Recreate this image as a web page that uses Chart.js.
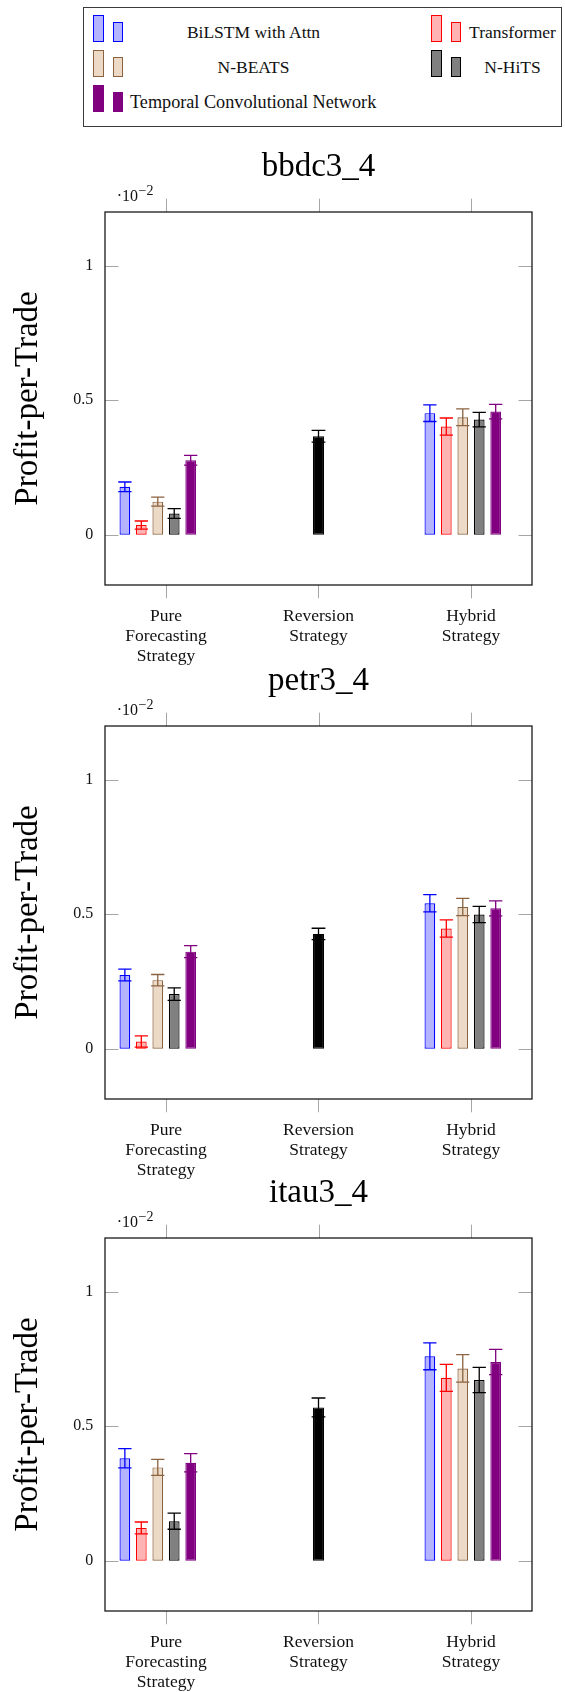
<!DOCTYPE html>
<html><head><meta charset="utf-8">
<script src="https://cdn.jsdelivr.net/npm/chart.js@4.4.1/dist/chart.umd.min.js"></script>
<style>
html,body{margin:0;padding:0;background:#fff;}
body{width:565px;height:1692px;overflow:hidden;position:relative;font-family:"Liberation Serif",serif;color:#111;}
.cv{position:absolute;left:0;}
#legendBox{position:absolute;left:83px;top:7px;width:477px;height:118px;border:1.3px solid #3a3a3a;}
.icon{position:absolute;box-sizing:border-box;border-width:1.2px;border-style:solid;width:10.5px;}
.ltxt{position:absolute;font-size:17.5px;line-height:20px;text-align:center;white-space:nowrap;}
</style></head><body>
<div id="legendBox"></div>
<canvas id="c0" class="cv" width="565" height="534" style="top:132px;width:565px;height:534px"></canvas>
<canvas id="c1" class="cv" width="565" height="534" style="top:646px;width:565px;height:534px"></canvas>
<canvas id="c2" class="cv" width="565" height="534" style="top:1158px;width:565px;height:534px"></canvas>
<script>
// ---------- data ----------
const categories = [["Pure","Forecasting","Strategy"],["Reversion","Strategy"],["Hybrid","Strategy"]];
const categoryX = [0, 1, 2];
const models = ["BiLSTM with Attn","Transformer","N-BEATS","N-HiTS","Temporal Convolutional Network"];
const titles = ["bbdc3_4","petr3_4","itau3_4"];
const yTicks = [0, 0.5, 1];
const yTickLabels = ["0","0.5","1"];
const yRange = [-0.187, 1.2];

// bbdc3_4
const bbdcPure      = [0.178, 0.036, 0.123, 0.079, 0.277];
const bbdcPureErr   = [0.018, 0.015, 0.017, 0.018, 0.018];
const bbdcHybrid    = [0.452, 0.402, 0.437, 0.428, 0.458];
const bbdcHybridErr = [0.031, 0.032, 0.031, 0.027, 0.027];
const bbdcReversion    = [0.366];
const bbdcReversionErr = [0.022];
// petr3_4
const petrPure      = [0.274, 0.027, 0.255, 0.203, 0.361];
const petrPureErr   = [0.022, 0.021, 0.021, 0.023, 0.022];
const petrHybrid    = [0.541, 0.447, 0.527, 0.499, 0.522];
const petrHybridErr = [0.032, 0.032, 0.032, 0.030, 0.028];
const petrReversion    = [0.427];
const petrReversionErr = [0.021];
// itau3_4
const itauPure      = [0.381, 0.122, 0.347, 0.147, 0.364];
const itauPureErr   = [0.036, 0.022, 0.030, 0.030, 0.034];
const itauHybrid    = [0.760, 0.680, 0.715, 0.672, 0.739];
const itauHybridErr = [0.050, 0.050, 0.051, 0.047, 0.047];
const itauReversion    = [0.570];
const itauReversionErr = [0.035];

// ---------- styles ----------
const fills   = ["#b3b3ff","#ffb3b3","#ecd9c6","#808080","#800080"];
const borders = ["#0000ff","#ff0000","#8b6340","#000000","#800080"];
const errColors = ["#0000ff","#ff0000","#8b6340","#000000","#800080"];
const FONT = "'Liberation Serif', serif";

// ---------- legend (HTML) ----------
(function buildLegend(){
  const slots = [
    {col:0,row:0},{col:1,row:0},{col:0,row:1},{col:1,row:1},{col:0,row:2}
  ];
  const colIcon = [93.3, 431];
  const colText = [[130,247],[468,89]];
  models.forEach((m,i)=>{
    const s = slots[i];
    const dy = 35*s.row;
    const a = document.createElement('div');
    a.className='icon';
    a.style.cssText += `left:${colIcon[s.col]}px;top:${15+dy}px;height:26.7px;background:${fills[i]};border-color:${borders[i]};`;
    const b = document.createElement('div');
    b.className='icon';
    b.style.cssText += `left:${colIcon[s.col]+19.5}px;top:${21.7+dy}px;height:20px;background:${fills[i]};border-color:${borders[i]};`;
    const t = document.createElement('div');
    t.className='ltxt';
    t.textContent = m;
    t.style.cssText += `left:${colText[s.col][0]}px;width:${colText[s.col][1]}px;top:${22.4+dy}px;`;
    if (i===4){ t.style.textAlign='left'; t.style.fontSize='18.2px'; }
    document.body.appendChild(a); document.body.appendChild(b); document.body.appendChild(t);
  });
})();

// ---------- plugin: frame, inner ticks, error bars, exponent ----------
const decor = {
  id:'decor',
  beforeDatasetsDraw(chart){
    const {ctx, chartArea:a, scales:{x,y}} = chart;
    ctx.save();
    ctx.strokeStyle='#a6a6a6'; ctx.lineWidth=1;
    ctx.beginPath();
    y.ticks.forEach((t,i)=>{
      const py = Math.round(y.getPixelForTick(i))+0.5;
      ctx.moveTo(a.left,py); ctx.lineTo(a.left+13.5,py);
      ctx.moveTo(a.right-13.5,py); ctx.lineTo(a.right,py);
    });
    x.ticks.forEach((t,i)=>{
      const px = Math.round(x.getPixelForTick(i))+0.5;
      ctx.moveTo(px,a.top-13.3); ctx.lineTo(px,a.top);
    });
    ctx.stroke();
    ctx.restore();
  },
  afterDatasetsDraw(chart){
    const {ctx, chartArea:a, scales:{y}} = chart;
    ctx.save();
    chart.data.datasets.forEach((ds,d)=>{
      if(!ds.errorBars) return;
      const meta = chart.getDatasetMeta(d);
      ctx.strokeStyle = ds.errColor; ctx.lineWidth = 1.3;
      meta.data.forEach((el,i)=>{
        const v = ds.data[i].y;
        if(v===null || v===undefined) return;
        const e = ds.errorBars[i];
        const yt = y.getPixelForValue(v+e), yb = y.getPixelForValue(v-e);
        const half = el.width/2 + 1.3;
        ctx.beginPath();
        ctx.moveTo(el.x,yt); ctx.lineTo(el.x,yb);
        ctx.moveTo(el.x-half,yt); ctx.lineTo(el.x+half,yt);
        ctx.moveTo(el.x-half,yb); ctx.lineTo(el.x+half,yb);
        ctx.stroke();
      });
    });
    // frame
    ctx.strokeStyle='#1a1a1a'; ctx.lineWidth=1.3;
    ctx.strokeRect(a.left,a.top,a.right-a.left,a.bottom-a.top);
    // exponent label
    ctx.fillStyle='#111';
    ctx.textBaseline='alphabetic'; ctx.textAlign='left';
    ctx.font = "16px "+FONT;
    const bx = a.left+11.7, by = a.top-10.6;
    ctx.fillText("\u00B710", bx, by);
    const w = ctx.measureText("\u00B710").width;
    ctx.font = "14px "+FONT;
    ctx.fillText("\u22122", bx+w+0.5, by-6);
    ctx.restore();
  }
};

Chart.defaults.font.family = FONT;
Chart.defaults.color = '#111';

function makeChart(id, title, pure, pureErr, hybrid, hybridErr, rev, revErr){
  const datasets = models.map((m,i)=>({
    label:m,
    data:[{x:categoryX[0],y:pure[i]},{x:categoryX[2],y:hybrid[i]}],
    errorBars:[pureErr[i],hybridErr[i]],
    errColor:errColors[i],
    backgroundColor:fills[i], borderColor:borders[i], borderWidth:1.2, borderSkipped:false,
    categoryPercentage:0.6474, barPercentage:0.65
  }));
  datasets.push({label:'', data:[{x:categoryX[0],y:null},{x:categoryX[2],y:null}],
    categoryPercentage:0.6474, barPercentage:0.65});
  datasets.push({label:'Reversion', data:[{x:categoryX[1],y:rev[0]}], errorBars:[revErr[0]], errColor:'#000',
    grouped:false, maxBarThickness:11.2, backgroundColor:'#000', borderColor:'#000', borderWidth:1.2, borderSkipped:false,
    categoryPercentage:0.6474, barPercentage:0.65});
  return new Chart(document.getElementById(id),{
    type:'bar',
    data:{datasets},
    options:{
      responsive:false, animation:false, devicePixelRatio:1,
      layout:{padding:{left:0,right:33,top:0,bottom:0}},
      plugins:{
        legend:{display:false}, tooltip:{enabled:false},
        title:{display:true, text:title, fullSize:false, color:'#000',
          font:{family:FONT,size:33,weight:'normal',lineHeight:1},
          padding:{top:18.5,bottom:28.5}}
      },
      scales:{
        x:{type:'linear', min:-0.4, max:2.4, offset:false,
          afterBuildTicks:s=>{ s.ticks = categoryX.map(v=>({value:v})); },
          afterFit:s=>{ s.height = 81; },
          grid:{display:true, drawOnChartArea:false, drawTicks:true, tickLength:13.3, color:'#a6a6a6', lineWidth:1, offset:false},
          border:{display:false},
          ticks:{autoSkip:false, maxRotation:0, minRotation:0, padding:8, color:'#111',
            font:{family:FONT,size:17.5,lineHeight:20/17.5},
            callback:(v)=>categories[categoryX.indexOf(v)]}
        },
        y:{type:'linear', min:yRange[0], max:yRange[1],
          afterBuildTicks:s=>{ s.ticks = yTicks.map(v=>({value:v})); },
          afterFit:s=>{ s.width = 105; },
          grid:{display:false, drawTicks:false},
          border:{display:false},
          ticks:{padding:11.7, color:'#111', font:{family:FONT,size:16},
            callback:(v)=>yTickLabels[yTicks.indexOf(v)]},
          title:{display:true, text:'Profit-per-Trade', color:'#000',
            font:{family:FONT,size:33,lineHeight:1}, padding:{top:11.7,bottom:0}}
        }
      }
    },
    plugins:[decor]
  });
}

makeChart('c0', titles[0], bbdcPure, bbdcPureErr, bbdcHybrid, bbdcHybridErr, bbdcReversion, bbdcReversionErr);
makeChart('c1', titles[1], petrPure, petrPureErr, petrHybrid, petrHybridErr, petrReversion, petrReversionErr);
makeChart('c2', titles[2], itauPure, itauPureErr, itauHybrid, itauHybridErr, itauReversion, itauReversionErr);
</script>
</body></html>
